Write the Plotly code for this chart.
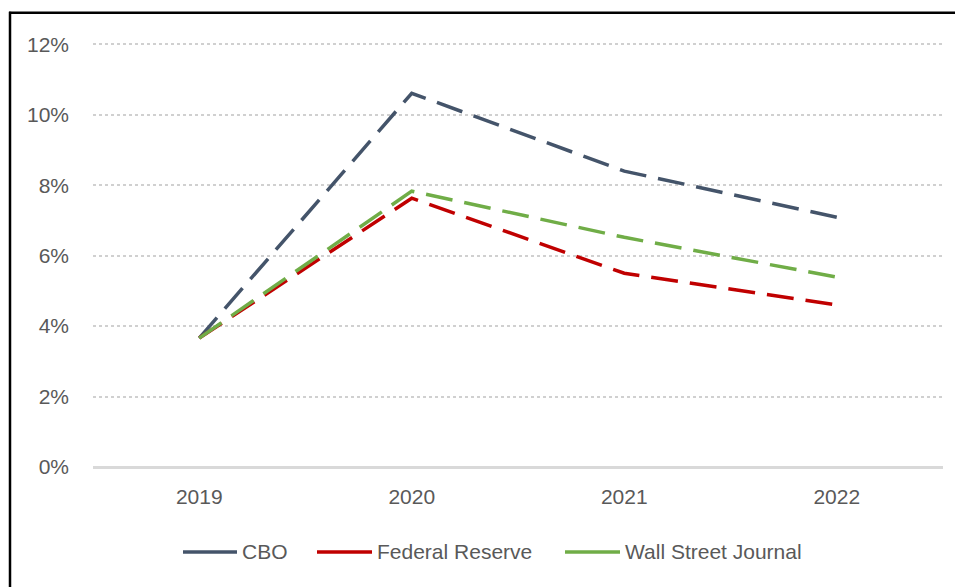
import plotly.graph_objects as go

years = ["2019", "2020", "2021", "2022"]
cbo = [3.66, 10.61, 8.40, 7.09]
fed = [3.66, 7.63, 5.50, 4.60]
wsj = [3.66, 7.83, 6.52, 5.39]
y_ticks = [0, 2, 4, 6, 8, 10, 12]
y_labels = ["0%", "2%", "4%", "6%", "8%", "10%", "12%"]

series_names = ["CBO", "Federal Reserve", "Wall Street Journal"]
series_vals = [cbo, fed, wsj]
series_cols = ["#44546A", "#C00000", "#70AD47"]

FONT = "Liberation Sans, Arial, sans-serif"
TXT = "#595959"

YMAX = 12.15
UNIT = (467.0 - 44.0) / 12.0          # page px per 1%
PLOT_TOP = 467.0 - UNIT * YMAX       # page y of plot-area top

# page-pixel layout helpers (plot area on page: x 93..943, y PLOT_TOP..467)
PX0, PX1, PY0, PY1 = 93.0, 943.0, PLOT_TOP, 467.0
def px(x):
    return (x - PX0) / (PX1 - PX0)
def py(y):
    return (PY1 - y) / (PY1 - PY0)

fig = go.Figure()
for name, vals, col in zip(series_names, series_vals, series_cols):
    fig.add_trace(go.Scatter(
        x=years, y=vals, mode="lines", name=name, showlegend=False,
        line=dict(color=col, width=3.5, dash="27px,12px"),
    ))

# manual legend (solid swatches like the original)
legend_line_x = [(183, 237), (317, 372), (565, 620)]
shapes = []
annotations = []
for (x0, x1), name, col in zip(legend_line_x, series_names, series_cols):
    shapes.append(dict(type="line", xref="paper", yref="paper",
                       x0=px(x0), x1=px(x1), y0=py(552), y1=py(552),
                       line=dict(color=col, width=3.5)))
    annotations.append(dict(text=name, xref="paper", yref="paper",
                            x=px(x1 + 3), y=py(552), xanchor="left", yanchor="middle",
                            showarrow=False,
                            font=dict(family=FONT, size=21, color=TXT)))

# outer frame (top and left edges visible)
shapes.append(dict(type="line", xref="paper", yref="paper", x0=px(9), x1=px(990),
                   y0=py(12.5), y1=py(12.5), line=dict(color="black", width=2.5)))
shapes.append(dict(type="line", xref="paper", yref="paper", x0=px(10), x1=px(10),
                   y0=py(11.5), y1=py(600), line=dict(color="black", width=2.5)))

fig.update_layout(
    width=955, height=579,
    margin=dict(l=85, r=20, t=PLOT_TOP - 8, b=120),
    plot_bgcolor="white", paper_bgcolor="white",
    font=dict(family=FONT, size=21, color=TXT),
    showlegend=False,
    xaxis=dict(type="category", range=[-0.5, 3.5], showgrid=False, showline=False,
               ticks="", ticklabelstandoff=15, zeroline=False,
               tickfont=dict(family=FONT, size=21, color=TXT)),
    yaxis=dict(range=[0, YMAX], tickvals=y_ticks, ticktext=y_labels, showgrid=True,
               gridcolor="#D0D0D0", griddash="dot", gridwidth=1.5,
               zeroline=True, zerolinecolor="#D9D9D9", zerolinewidth=2.5,
               showline=False, ticks="", ticklabelstandoff=23,
               tickfont=dict(family=FONT, size=21, color=TXT)),
    shapes=shapes,
    annotations=annotations,
)

fig.write_html("out.html")
